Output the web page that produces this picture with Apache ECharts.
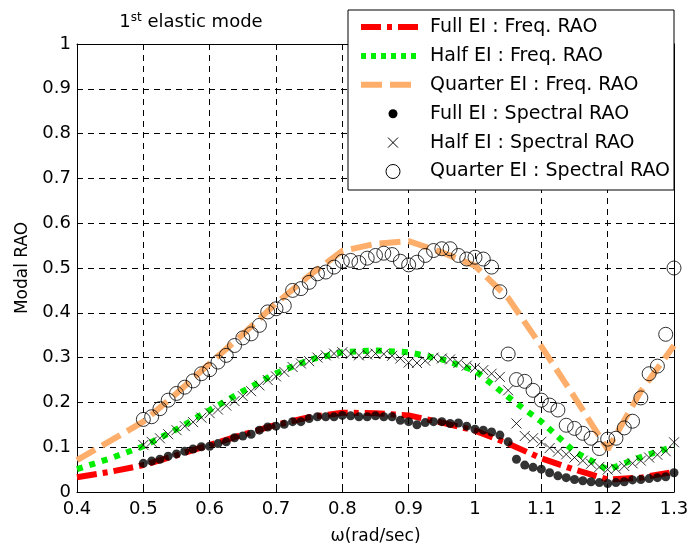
<!DOCTYPE html>
<html>
<head>
<meta charset="utf-8">
<script src="https://cdn.jsdelivr.net/npm/echarts@6/dist/echarts.min.js"></script>
<style>
  html, body { margin: 0; padding: 0; background: #fff; }
  #chart { width: 690px; height: 550px; }
</style>
</head>
<body>
<div id="chart"></div>
<script>
// Frequency-domain RAO curves (first elastic mode)
const omegaFreq = [0.4, 0.45, 0.5, 0.55, 0.6, 0.65, 0.7, 0.75, 0.8, 0.85, 0.9, 0.95,
                   1.0, 1.05, 1.1, 1.15, 1.2, 1.25, 1.3];
const fullFreq    = [0.033, 0.045, 0.060, 0.082, 0.105, 0.128, 0.150, 0.167, 0.177, 0.176, 0.171, 0.155,
                     0.137, 0.108, 0.075, 0.050, 0.028, 0.032, 0.045];
const halfFreq    = [0.051, 0.075, 0.102, 0.140, 0.183, 0.225, 0.265, 0.295, 0.312, 0.316, 0.312, 0.296,
                     0.271, 0.212, 0.157, 0.090, 0.050, 0.078, 0.102];
const quarterFreq = [0.071, 0.114, 0.157, 0.220, 0.287, 0.352, 0.421, 0.483, 0.538, 0.554, 0.560, 0.535,
                     0.505, 0.433, 0.325, 0.212, 0.095, 0.225, 0.327];

// Spectral-analysis RAO samples
const omegaSpec = [
  0.5, 0.5125, 0.525, 0.5375, 0.55, 0.5625, 0.575, 0.5875, 0.6, 0.6125, 0.625, 0.6375, 0.65,
  0.6625, 0.675, 0.6875, 0.7, 0.7125, 0.725, 0.7375, 0.75, 0.7625, 0.775, 0.7875, 0.8,
  0.8125, 0.825, 0.8375, 0.85, 0.8625, 0.875, 0.8875, 0.9, 0.9125, 0.925, 0.9375, 0.95,
  0.9625, 0.975, 0.9875, 1.0, 1.0125, 1.025, 1.0375, 1.05, 1.0625, 1.075, 1.0875, 1.1,
  1.1125, 1.125, 1.1375, 1.15, 1.1625, 1.175, 1.1875, 1.2, 1.2125, 1.225, 1.2375, 1.25,
  1.2625, 1.275, 1.2875, 1.3
];
const fullSpec = [
  0.064, 0.069, 0.073, 0.080, 0.085, 0.091, 0.096, 0.101, 0.102, 0.108, 0.112, 0.121, 0.125,
  0.129, 0.138, 0.145, 0.147, 0.151, 0.157, 0.157, 0.164, 0.168, 0.168, 0.168, 0.171,
  0.170, 0.168, 0.168, 0.170, 0.168, 0.168, 0.160, 0.157, 0.150, 0.155, 0.157, 0.157,
  0.153, 0.154, 0.147, 0.140, 0.138, 0.134, 0.127, 0.112, 0.073, 0.060, 0.055, 0.051,
  0.043, 0.036, 0.032, 0.028, 0.025, 0.023, 0.021, 0.019, 0.021, 0.023, 0.027, 0.028,
  0.030, 0.032, 0.034, 0.043
];
const halfSpec = [
  0.105, 0.112, 0.120, 0.129, 0.138, 0.147, 0.156, 0.166, 0.176, 0.184, 0.193, 0.203, 0.214,
  0.225, 0.238, 0.250, 0.258, 0.268, 0.279, 0.287, 0.292, 0.300, 0.305, 0.309, 0.312,
  0.308, 0.305, 0.307, 0.309, 0.308, 0.304, 0.298, 0.289, 0.288, 0.293, 0.300, 0.298,
  0.296, 0.288, 0.282, 0.277, 0.272, 0.264, 0.257, 0.227, 0.153, 0.125, 0.120, 0.112,
  0.098, 0.090, 0.084, 0.077, 0.070, 0.063, 0.056, 0.050, 0.052, 0.058, 0.064, 0.070,
  0.077, 0.083, 0.091, 0.111
];
const quarterSpec = [
  0.162, 0.168, 0.186, 0.205, 0.220, 0.234, 0.248, 0.264, 0.273, 0.290, 0.305, 0.327, 0.344,
  0.353, 0.372, 0.402, 0.409, 0.416, 0.450, 0.454, 0.468, 0.487, 0.491, 0.502, 0.515,
  0.517, 0.512, 0.522, 0.528, 0.533, 0.530, 0.515, 0.507, 0.513, 0.528, 0.539, 0.543,
  0.543, 0.528, 0.520, 0.524, 0.520, 0.502, 0.447, 0.308, 0.251, 0.247, 0.227, 0.205,
  0.194, 0.183, 0.149, 0.142, 0.131, 0.120, 0.097, 0.118, 0.120, 0.143, 0.158, 0.210,
  0.264, 0.281, 0.352, 0.500
];

const seriesNames = [
  'Full EI : Freq. RAO', 'Half EI : Freq. RAO', 'Quarter EI : Freq. RAO',
  'Full EI : Spectral RAO', 'Half EI : Spectral RAO', 'Quarter EI : Spectral RAO'
];

const FONT = "'DejaVu Sans', 'Liberation Sans', Arial, sans-serif";
const RED = '#ff0000', GREEN = '#00ee00', ORANGE = '#fdae6b';
const dashRed = [20, 6, 5, 6], dashGreen = [6, 7], dashOrange = [21, 8];
const crossPath = 'path://M0,0L10,10M10,0L0,10';

const pairs = (xs, ys) => xs.map((x, i) => [x, ys[i]]);

const chart = echarts.init(document.getElementById('chart'), null, { renderer: 'canvas' });

const plotLeft = 77, plotRight = 16, plotTop = 44, plotBottom = 58;

const axisCommon = {
  type: 'value',
  axisLine: { show: true, onZero: false, lineStyle: { color: '#000', width: 1 } },
  axisTick: { show: true, inside: true, length: 5, lineStyle: { color: '#000' } },
};

// Legend drawn as a framed box in the upper right
const legendLeft = 348, legendTop = 10, legendW = 326, legendH = 180;
const rowY = i => 27 + 28.9 * i;
const sx1 = 361, sx2 = 418, sxm = 393, textX = 430;
const legendGraphics = [
  { type: 'rect', z: 100, shape: { x: legendLeft, y: legendTop, width: legendW, height: legendH },
    style: { fill: '#fff', stroke: '#000', lineWidth: 1 } },
  { type: 'line', z: 101, shape: { x1: sx1, y1: rowY(0), x2: sx2, y2: rowY(0) },
    style: { stroke: RED, lineWidth: 6, lineDash: dashRed } },
  { type: 'line', z: 101, shape: { x1: sx1, y1: rowY(1), x2: sx2, y2: rowY(1) },
    style: { stroke: GREEN, lineWidth: 6, lineDash: [5, 5] } },
  { type: 'line', z: 101, shape: { x1: sx1, y1: rowY(2), x2: sx2, y2: rowY(2) },
    style: { stroke: ORANGE, lineWidth: 6, lineDash: dashOrange } },
  { type: 'circle', z: 101, shape: { cx: sxm, cy: rowY(3), r: 4.5 }, style: { fill: '#000' } },
  { type: 'line', z: 101, shape: { x1: sxm - 5, y1: rowY(4) - 5, x2: sxm + 5, y2: rowY(4) + 5 },
    style: { stroke: '#000', lineWidth: 1 } },
  { type: 'line', z: 101, shape: { x1: sxm + 5, y1: rowY(4) - 5, x2: sxm - 5, y2: rowY(4) + 5 },
    style: { stroke: '#000', lineWidth: 1 } },
  { type: 'circle', z: 101, shape: { cx: sxm, cy: rowY(5), r: 7 },
    style: { fill: 'none', stroke: '#000', lineWidth: 1 } },
].concat(seriesNames.map((name, i) => ({
  type: 'text', z: 101,
  style: { text: name, x: textX, y: rowY(i), font: '19px ' + FONT, fill: '#000',
           align: 'left', verticalAlign: 'middle' }
})));

const option = {
  backgroundColor: '#fff',
  animation: false,
  grid: { left: plotLeft, right: plotRight, top: plotTop, bottom: plotBottom,
          containLabel: false, outerBoundsMode: 'none' },
  xAxis: [
    Object.assign({}, axisCommon, {
      position: 'bottom', min: 0.4, max: 1.3, interval: 0.1,
      name: 'ω(rad/sec)', nameLocation: 'middle', nameGap: 36,
      nameTextStyle: { color: '#000', fontSize: 17, fontFamily: FONT },
      axisLabel: { color: '#000', fontSize: 18, fontFamily: FONT, margin: 8,
                   formatter: v => String(Math.round(v * 10) / 10) },
      splitLine: { show: true, lineStyle: { color: '#000', type: [6, 5], width: 1 } },
    }),
    Object.assign({}, axisCommon, {
      position: 'top', min: 0.4, max: 1.3, interval: 0.1,
      axisLabel: { show: false }, splitLine: { show: false },
    }),
  ],
  yAxis: [
    Object.assign({}, axisCommon, {
      position: 'left', min: 0, max: 1, interval: 0.1,
      name: 'Modal RAO', nameLocation: 'middle', nameGap: 46, nameRotate: 90,
      nameTextStyle: { color: '#000', fontSize: 17, fontFamily: FONT },
      axisLabel: { color: '#000', fontSize: 18, fontFamily: FONT, margin: 6,
                   formatter: v => String(Math.round(v * 10) / 10) },
      splitLine: { show: true, lineStyle: { color: '#000', type: [6, 5], width: 1 } },
    }),
    Object.assign({}, axisCommon, {
      position: 'right', min: 0, max: 1, interval: 0.1,
      axisLabel: { show: false }, splitLine: { show: false },
    }),
  ],
  graphic: [
    { type: 'text', z: 100,
      style: { text: '1{sup|st} elastic mode', x: 191, y: 22, align: 'center', verticalAlign: 'middle',
               font: '18px ' + FONT, fill: '#000',
               rich: { sup: { fontSize: 12, fontFamily: FONT, verticalAlign: 'top', padding: [0, 0, 9, 0] } } } },
  ].concat(legendGraphics),
  series: [
    { name: seriesNames[0], type: 'line', data: pairs(omegaFreq, fullFreq), showSymbol: false, z: 2,
      lineStyle: { color: RED, width: 6, type: dashRed, cap: 'butt' }, itemStyle: { color: RED } },
    { name: seriesNames[1], type: 'line', data: pairs(omegaFreq, halfFreq), showSymbol: false, z: 2,
      lineStyle: { color: GREEN, width: 6, type: dashGreen, cap: 'butt' }, itemStyle: { color: GREEN } },
    { name: seriesNames[2], type: 'line', data: pairs(omegaFreq, quarterFreq), showSymbol: false, z: 2,
      lineStyle: { color: ORANGE, width: 6, type: dashOrange, cap: 'butt' }, itemStyle: { color: ORANGE } },
    { name: seriesNames[3], type: 'scatter', data: pairs(omegaSpec, fullSpec), z: 3,
      symbol: 'circle', symbolSize: 9, itemStyle: { color: '#000' } },
    { name: seriesNames[4], type: 'scatter', data: pairs(omegaSpec, halfSpec), z: 3,
      symbol: crossPath, symbolSize: 10,
      itemStyle: { color: 'none', borderColor: '#000', borderWidth: 1 } },
    { name: seriesNames[5], type: 'scatter', data: pairs(omegaSpec, quarterSpec), z: 3,
      symbol: 'circle', symbolSize: 14,
      itemStyle: { color: 'none', borderColor: '#000', borderWidth: 1 } },
  ],
};

chart.setOption(option);
</script>
</body>
</html>
